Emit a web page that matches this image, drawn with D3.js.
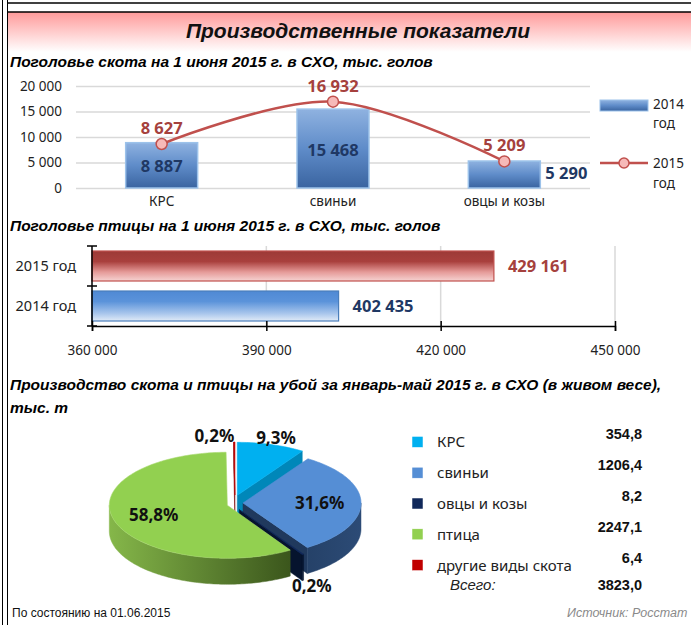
<!DOCTYPE html>
<html>
<head>
<meta charset="utf-8">
<script src="https://cdn.jsdelivr.net/npm/d3@7"></script>
<style>
  body { margin: 0; background: #fff; }
  svg { display: block; }
</style>
</head>
<body>
<script>
    var w = 691;
    var h = 625;

    // --- data ---
    var headCats = ["КРС", "свиньи", "овцы и козы"];
    var heads2014 = [8887, 15468, 5290];
    var heads2015 = [8627, 16932, 5209];
    var headTicks = [0, 5000, 10000, 15000, 20000];

    var birdCats = ["2015 год", "2014 год"];
    var birdValues = [429161, 402435];
    var birdTicks = [360000, 390000, 420000, 450000];

    var pieCats = ["КРС", "свиньи", "овцы и козы", "птица", "другие виды скота"];
    var pieValues = [354.8, 1206.4, 8.2, 2247.1, 6.4];
    var pieTotal = 3823.0;

    var narrow = "'Liberation Sans Narrow', 'Arial Narrow', sans-serif";
    var arial = "'Liberation Sans', Arial, sans-serif";
    var calib = "'Noto Sans', 'Open Sans', sans-serif";

    var ru = d3.formatLocale({decimal: ",", thousands: "\u00a0", grouping: [3], currency: ["", ""]});
    var fmtInt = ru.format(",d");
    var fmt1 = ru.format(".1f");

    var svg = d3.select("body").append("svg")
        .attr("width", w)
        .attr("height", h);

    var defs = svg.append("defs");

    function vgrad(id, stops) {
        var g = defs.append("linearGradient").attr("id", id)
            .attr("x1", 0).attr("y1", 0).attr("x2", 0).attr("y2", 1);
        stops.forEach(function(s) {
            g.append("stop").attr("offset", s[0]).attr("stop-color", s[1]);
        });
    }
    vgrad("titleGrad", [[0, "#ff9a9a"], [1, "#ffffff"]]);
    vgrad("bar14", [[0, "#8fb2e0"], [0.5, "#5f8cc9"], [1, "#3a64a0"]]);
    vgrad("bird15", [[0, "#9c3a37"], [0.35, "#a9403d"], [0.7, "#e59a98"], [1, "#f6d3d2"]]);
    vgrad("bird14", [[0, "#4f89d4"], [0.35, "#5b93da"], [0.75, "#a9c6ec"], [1, "#e1ebf7"]]);

    // --- frame ---
    svg.append("rect").attr("x", 8).attr("y", 12).attr("width", w - 8).attr("height", 40)
        .attr("fill", "url(#titleGrad)");
    svg.append("line").attr("x1", 8).attr("x2", w).attr("y1", 3).attr("y2", 3)
        .attr("stroke", "#000").attr("stroke-width", 1.5);
    svg.append("line").attr("x1", 8).attr("x2", w).attr("y1", 12).attr("y2", 12)
        .attr("stroke", "#000").attr("stroke-width", 1.5);
    [2.5, 7.5].forEach(function(x) {
        svg.append("line").attr("x1", x).attr("x2", x).attr("y1", 0).attr("y2", h)
            .attr("stroke", "#000").attr("stroke-width", 1);
    });

    svg.append("text").attr("x", 358).attr("y", 38).attr("text-anchor", "middle")
        .attr("font-family", arial).attr("font-size", 21).attr("font-weight", "bold")
        .attr("font-style", "italic").attr("fill", "#111")
        .text("Производственные показатели");

    function subTitle(y, txt) {
        svg.append("text").attr("x", 10).attr("y", y)
            .attr("font-family", narrow).attr("font-size", 15.5).attr("font-weight", "bold")
            .attr("font-style", "italic").attr("fill", "#000")
            .text(txt);
    }
    subTitle(67, "Поголовье скота на 1 июня 2015 г. в СХО, тыс. голов");
    subTitle(231, "Поголовье птицы на 1 июня 2015 г. в СХО, тыс. голов");
    subTitle(390, "Производство скота и птицы на убой за январь-май 2015 г. в СХО (в живом весе),");
    subTitle(413, "тыс. т");

    // --- chart 1: combo bars + smooth line ---
    var x1 = d3.scaleBand().domain(headCats).range([76, 590]).paddingInner(0.58).paddingOuter(0.29);
    var y1 = d3.scaleLinear().domain([0, 20000]).range([188, 86]);

    var yAx = svg.append("g").attr("transform", "translate(76,0)")
        .call(d3.axisLeft(y1).tickValues(headTicks).tickSize(-514).tickPadding(14).tickFormat(fmtInt));
    yAx.select(".domain").remove();
    yAx.selectAll("line").attr("stroke", "#d9d9d9").attr("stroke-width", 1.5);
    yAx.selectAll("text").attr("font-family", calib).attr("font-size", 13.5).attr("fill", "#222");

    svg.selectAll(".hbar").data(heads2014).enter().append("rect")
        .attr("x", function(d, i) { return x1(headCats[i]); })
        .attr("y", function(d) { return y1(d); })
        .attr("width", x1.bandwidth())
        .attr("height", function(d) { return y1(0) - y1(d); })
        .attr("fill", "url(#bar14)")
        .attr("stroke", "#9cc2ea").attr("stroke-width", 1.5);

    svg.selectAll(".hlab").data(heads2014).enter().append("text")
        .attr("x", function(d, i) {
            return d < 7000 ? x1(headCats[i]) + x1.bandwidth() + 5 : x1(headCats[i]) + x1.bandwidth() / 2;
        })
        .attr("y", function(d) { return d < 7000 ? y1(d) + 18 : (y1(d) + y1(0)) / 2 + 7; })
        .attr("text-anchor", function(d) { return d < 7000 ? "start" : "middle"; })
        .attr("font-family", calib).attr("font-size", 16.5).attr("font-weight", "bold")
        .attr("fill", "#1f3864")
        .text(function(d) { return fmtInt(d); });

    svg.selectAll(".xlab").data(headCats).enter().append("text")
        .attr("x", function(d) { return x1(d) + x1.bandwidth() / 2; })
        .attr("y", 206)
        .attr("text-anchor", "middle")
        .attr("font-family", calib).attr("font-size", 13.5).attr("fill", "#222")
        .text(function(d) { return d; });

    var line = d3.line()
        .x(function(d, i) { return x1(headCats[i]) + x1.bandwidth() / 2; })
        .y(function(d) { return y1(d); })
        .curve(d3.curveCatmullRom.alpha(0));
    svg.append("path").datum(heads2015).attr("d", line)
        .attr("fill", "none").attr("stroke", "#c0504d").attr("stroke-width", 2.5);

    svg.selectAll(".mk").data(heads2015).enter().append("circle")
        .attr("cx", function(d, i) { return x1(headCats[i]) + x1.bandwidth() / 2; })
        .attr("cy", function(d) { return y1(d); })
        .attr("r", 5.5)
        .attr("fill", "#f6b9b8").attr("stroke", "#c0504d").attr("stroke-width", 1.5);

    svg.selectAll(".mklab").data(heads2015).enter().append("text")
        .attr("x", function(d, i) { return x1(headCats[i]) + x1.bandwidth() / 2; })
        .attr("y", function(d) { return y1(d) - 10; })
        .attr("text-anchor", "middle")
        .attr("font-family", calib).attr("font-size", 16.5).attr("font-weight", "bold")
        .attr("fill", "#a5413d")
        .text(function(d) { return fmtInt(d); });

    // legend 1
    svg.append("rect").attr("x", 600).attr("y", 100).attr("width", 48).attr("height", 11)
        .attr("fill", "url(#bar14)").attr("stroke", "#9cc2ea");
    svg.append("line").attr("x1", 600).attr("x2", 648).attr("y1", 163).attr("y2", 163)
        .attr("stroke", "#c0504d").attr("stroke-width", 2.5);
    svg.append("circle").attr("cx", 624).attr("cy", 163).attr("r", 5)
        .attr("fill", "#f6b9b8").attr("stroke", "#c0504d").attr("stroke-width", 1.5);
    [["2014", 109], ["год", 128], ["2015", 168], ["год", 188]].forEach(function(t) {
        svg.append("text").attr("x", 653).attr("y", t[1])
            .attr("font-family", calib).attr("font-size", 13.5).attr("fill", "#222")
            .text(t[0]);
    });

    // --- chart 2: horizontal bars ---
    var x2 = d3.scaleLinear().domain([360000, 450000]).range([92, 615]);
    var y2 = d3.scaleBand().domain(birdCats).range([246, 326]).paddingInner(0.25).paddingOuter(0.125);

    svg.selectAll(".vgrid").data(birdTicks.slice(1)).enter().append("line")
        .attr("x1", function(d) { return x2(d); }).attr("x2", function(d) { return x2(d); })
        .attr("y1", 246).attr("y2", 326)
        .attr("stroke", "#d9d9d9").attr("stroke-width", 1.5);

    svg.selectAll(".bbar").data(birdValues).enter().append("rect")
        .attr("x", x2(360000))
        .attr("y", function(d, i) { return y2(birdCats[i]); })
        .attr("width", function(d) { return x2(d) - x2(360000); })
        .attr("height", y2.bandwidth())
        .attr("fill", function(d, i) { return i == 0 ? "url(#bird15)" : "url(#bird14)"; })
        .attr("stroke", function(d, i) { return i == 0 ? "#c0504d" : "#4a7ebb"; })
        .attr("stroke-width", 1.2);

    svg.selectAll(".blab").data(birdValues).enter().append("text")
        .attr("x", function(d) { return x2(d) + 14; })
        .attr("y", function(d, i) { return y2(birdCats[i]) + y2.bandwidth() / 2 + 6; })
        .attr("font-family", calib).attr("font-size", 16.5).attr("font-weight", "bold")
        .attr("fill", function(d, i) { return i == 0 ? "#a5413d" : "#1f3864"; })
        .text(function(d) { return fmtInt(d); });

    var xAx = svg.append("g").attr("transform", "translate(0,326)")
        .call(d3.axisBottom(x2).tickValues(birdTicks).tickSize(5).tickPadding(14).tickFormat(fmtInt));
    xAx.select(".domain").attr("stroke", "#000").attr("stroke-width", 1.5);
    xAx.selectAll(".tick line").attr("y1", -5).attr("stroke", "#000").attr("stroke-width", 1.5);
    xAx.selectAll("text").attr("font-family", calib).attr("font-size", 13.5).attr("fill", "#222");

    svg.append("line").attr("x1", 92).attr("x2", 92).attr("y1", 246).attr("y2", 326)
        .attr("stroke", "#000").attr("stroke-width", 1.5);
    [246, 286, 326].forEach(function(y) {
        svg.append("line").attr("x1", 87).attr("x2", 97).attr("y1", y).attr("y2", y)
            .attr("stroke", "#000").attr("stroke-width", 1.5);
    });
    svg.selectAll(".ylab2").data(birdCats).enter().append("text")
        .attr("x", 76)
        .attr("y", function(d) { return y2(d) + y2.bandwidth() / 2 + 5; })
        .attr("text-anchor", "end")
        .attr("font-family", calib).attr("font-size", 14.5).attr("fill", "#222")
        .text(function(d) { return d; });

    // --- chart 3: 3D exploded pie ---
    var pieColors = ["#00b0f0", "#558ed5", "#10285a", "#92d050", "#c00000"];
    var sideColors = ["#0087b9", "#20395d", "#06142e", "#4e6e28", "#7a0000"];
    var cx = 235, cy = 503, rx = 118, ry = 53, depth = 26, explode = 8;

    var hg = defs.append("linearGradient").attr("id", "greenSide").attr("gradientUnits", "userSpaceOnUse")
        .attr("x1", 107).attr("x2", 290).attr("y1", 0).attr("y2", 0);
    hg.append("stop").attr("offset", 0).attr("stop-color", "#86b84a");
    hg.append("stop").attr("offset", 1).attr("stop-color", "#3b561c");
    var bg = defs.append("linearGradient").attr("id", "blueSide").attr("gradientUnits", "userSpaceOnUse")
        .attr("x1", 243).attr("x2", 361).attr("y1", 0).attr("y2", 0);
    bg.append("stop").attr("offset", 0).attr("stop-color", "#1d3658");
    bg.append("stop").attr("offset", 1).attr("stop-color", "#2c4b76");

    var arcs = d3.pie().sort(null)(pieValues);
    arcs.forEach(function(a) {
        var m = (a.startAngle + a.endAngle) / 2;
        a.mid = m;
        a.c = [cx + explode * Math.sin(m), cy - explode * Math.cos(m)];
    });

    function pt(c, ang, k, dy) {
        return [c[0] + rx * k * Math.sin(ang), c[1] - ry * k * Math.cos(ang) + (dy || 0)];
    }
    function arcPts(c, a0, a1, dy) {
        var n = Math.max(2, Math.ceil((a1 - a0) / 0.02));
        var pts = [];
        for (var k = 0; k <= n; k++) pts.push(pt(c, a0 + (a1 - a0) * k / n, 1, dy));
        return pts;
    }
    var walls = [];
    arcs.forEach(function(a, i) {
        var side = i == 3 ? "url(#greenSide)" : (i == 1 ? "url(#blueSide)" : sideColors[i]);
        var lo = Math.max(a.startAngle, Math.PI / 2), hi = Math.min(a.endAngle, 3 * Math.PI / 2);
        if (lo < hi) {
            var top = arcPts(a.c, lo, hi, 0);
            var bot = arcPts(a.c, lo, hi, depth).reverse();
            walls.push({pts: top.concat(bot), fill: side, z: a.c[1] + ry});
        }
        [[a.startAngle, a.startAngle - Math.PI / 2], [a.endAngle, a.endAngle + Math.PI / 2]].forEach(function(e) {
            if (-Math.cos(e[1]) > 0.01) {
                var p = pt(a.c, e[0], 1, 0);
                walls.push({
                    pts: [a.c, p, [p[0], p[1] + depth], [a.c[0], a.c[1] + depth]],
                    fill: sideColors[i], z: (a.c[1] + p[1]) / 2
                });
            }
        });
    });
    walls.sort(function(a, b) { return a.z - b.z; });

    var pieG = svg.append("g");
    pieG.selectAll(".wall").data(walls).enter().append("path")
        .attr("d", function(d) { return "M" + d.pts.map(function(p) { return p.join(","); }).join("L") + "Z"; })
        .attr("fill", function(d) { return d.fill; })
        .attr("stroke", function(d) { return d.fill; }).attr("stroke-width", 0.5);

    pieG.selectAll(".top").data(arcs).enter().append("path")
        .attr("d", function(a) {
            var pts = [a.c].concat(arcPts(a.c, a.startAngle, a.endAngle, 0));
            return "M" + pts.map(function(p) { return p.join(","); }).join("L") + "Z";
        })
        .attr("fill", function(a, i) { return pieColors[i]; })
        .attr("stroke", function(a, i) { return i == 3 ? "#a6d86c" : pieColors[i]; })
        .attr("stroke-width", 0.6);

    pieG.selectAll(".plab").data(arcs).enter().append("text")
        .attr("x", function(a) {
            var big = a.value / pieTotal > 0.2;
            return pt(a.c, a.mid, big ? 0.65 : 1.14)[0];
        })
        .attr("y", function(a) {
            var big = a.value / pieTotal > 0.2;
            var p = pt(a.c, a.mid, big ? 0.65 : 1.12);
            return p[1] + (!big && Math.cos(a.mid) < 0 ? depth : 0);
        })
        .attr("dy", "0.35em")
        .attr("text-anchor", function(a) {
            var s = Math.sin(a.mid);
            if (a.value / pieTotal > 0.2 || Math.abs(s) > 0.1) return "middle";
            return s < 0 ? "end" : "start";
        })
        .attr("font-family", calib).attr("font-size", 17).attr("font-weight", "bold").attr("fill", "#111")
        .text(function(a) { return fmt1(a.value / pieTotal * 100) + "%"; });

    // legend 3
    var legRow = d3.scaleBand().domain(pieCats).range([427, 581]);
    var leg = svg.selectAll(".leg").data(pieCats).enter().append("g")
        .attr("transform", function(d) { return "translate(0," + (legRow(d) + legRow.bandwidth() / 2) + ")"; });
    leg.append("rect").attr("x", 412).attr("y", -6).attr("width", 11).attr("height", 11)
        .attr("fill", function(d, i) { return pieColors[i]; })
        .attr("stroke", "#fff").attr("stroke-width", 0.5);
    leg.append("text").attr("x", 437).attr("y", 5)
        .attr("font-family", calib).attr("font-size", 15).attr("fill", "#222")
        .text(function(d) { return d; });
    leg.append("text").attr("x", 642).attr("y", -3).attr("text-anchor", "end")
        .attr("font-family", narrow).attr("font-size", 14.5).attr("font-weight", "bold").attr("fill", "#111")
        .text(function(d, i) { return fmt1(pieValues[i]); });

    svg.append("text").attr("x", 450).attr("y", 590)
        .attr("font-family", arial).attr("font-size", 15).attr("font-style", "italic").attr("fill", "#222")
        .text("Всего:");
    svg.append("text").attr("x", 642).attr("y", 590).attr("text-anchor", "end")
        .attr("font-family", narrow).attr("font-size", 14.5).attr("font-weight", "bold").attr("fill", "#111")
        .text(fmt1(pieTotal));

    svg.append("text").attr("x", 12).attr("y", 617)
        .attr("font-family", arial).attr("font-size", 12).attr("fill", "#111")
        .text("По состоянию на 01.06.2015");
    svg.append("text").attr("x", 567).attr("y", 617)
        .attr("font-family", arial).attr("font-size", 12.5).attr("font-style", "italic").attr("fill", "#8a8a8a")
        .text("Источник: Росстат");
</script>
</body>
</html>
